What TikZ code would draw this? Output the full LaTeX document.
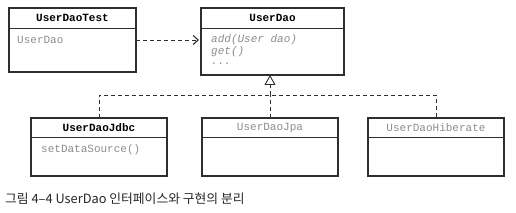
\documentclass[tikz,border=0pt]{standalone}
\usepackage{fontspec}
\setmonofont{Liberation Mono}
\newfontfamily\cjk{Noto Sans CJK KR}
\usetikzlibrary{calc,arrows.meta}
\definecolor{linegray}{HTML}{2E2E2E}
\definecolor{textgray}{HTML}{8C8C8C}

\begin{document}
\begin{tikzpicture}[x=1pt,y=-1pt]
\tikzstyle{classbox}=[draw=linegray,line width=1.1pt,anchor=north west,inner sep=0pt,outer sep=0pt]
\tikzstyle{classline}=[draw=linegray,line width=0.9pt]
\tikzstyle{classname}=[inner sep=0pt,font=\ttfamily\bfseries\fontsize{11}{12}\selectfont]
\tikzstyle{member}=[inner sep=0pt,anchor=west,textgray,font=\ttfamily\fontsize{11}{12}\selectfont]
\tikzstyle{dep}=[draw=linegray,line width=0.9pt,dash pattern=on 4pt off 3pt]

	\useasboundingbox (0,0) rectangle (516,213);

	% client
	\node (test) [classbox,minimum width=127pt,minimum height=64pt] at (9,8) {};
	\draw [classline] ($(test.north west)+(0,20)$) -- ($(test.north east)+(0,20)$);
	\node (testname) [classname] at ($(test.north)+(0,10)$) {UserDaoTest};
	\node (testfield) [member] at ($(test.north west)+(8,32)$) {UserDao};

	% interface
	\node (dao) [classbox,minimum width=143pt,minimum height=67pt] at (201,8) {};
	\draw [classline] ($(dao.north west)+(0,20)$) -- ($(dao.north east)+(0,20)$);
	\node (daoname) [classname] at ($(dao.north)+(0,10)$) {UserDao};
	\node (daoadd) [member,font=\ttfamily\itshape\fontsize{11}{12}\selectfont] at ($(dao.north west)+(10,32)$) {add(User dao)};
	\node (daoget) [member,font=\ttfamily\itshape\fontsize{11}{12}\selectfont] at ($(dao.north west)+(10,44)$) {get()};
	\node (daomore) [member,font=\ttfamily\itshape\fontsize{11}{12}\selectfont] at ($(dao.north west)+(10,56)$) {...};

	% implementations
	\node (jdbc) [classbox,minimum width=136pt,minimum height=58pt] at (31,118) {};
	\draw [classline] ($(jdbc.north west)+(0,19)$) -- ($(jdbc.north east)+(0,19)$);
	\node (jdbcname) [classname] at ($(jdbc.north)+(0,10)$) {UserDaoJdbc};
	\node (jdbcset) [member] at ($(jdbc.north west)+(10,32)$) {setDataSource()};

	\node (jpa) [classbox,minimum width=136pt,minimum height=58pt] at (202,118) {};
	\draw [classline] ($(jpa.north west)+(0,19)$) -- ($(jpa.north east)+(0,19)$);
	\node (jpaname) [classname,textgray,font=\ttfamily\fontsize{11}{12}\selectfont] at ($(jpa.north)+(0,10)$) {UserDaoJpa};

	\node (hib) [classbox,minimum width=136pt,minimum height=58pt] at (368,118) {};
	\draw [classline] ($(hib.north west)+(0,19)$) -- ($(hib.north east)+(0,19)$);
	\node (hibname) [classname,textgray,font=\ttfamily\fontsize{11}{12}\selectfont] at ($(hib.north)+(0,10)$) {UserDaoHiberate};

	% dependency
	\draw [dep,-{Straight Barb[length=5pt,width=9pt,line width=1.1pt]},shorten >=2pt] (test.east |- testfield) -- (dao.west |- testfield);

	% realization
	\coordinate (bus) at (270,95);
	\draw [dep] (jdbc.north) |- (bus) -| (hib.north);
	\draw [dep] (jpa.north) -- (bus);
	\draw [dep,-{Triangle[open,length=10pt,width=11pt,line width=0.9pt]}] (bus) -- (bus |- dao.south);

	\node (caption) [anchor=west,inner sep=0pt,font=\cjk\fontsize{12.8}{14}\selectfont,black!85] at (5,199) {그림 4–4 UserDao 인터페이스와 구현의 분리};

\end{tikzpicture}
\end{document}
